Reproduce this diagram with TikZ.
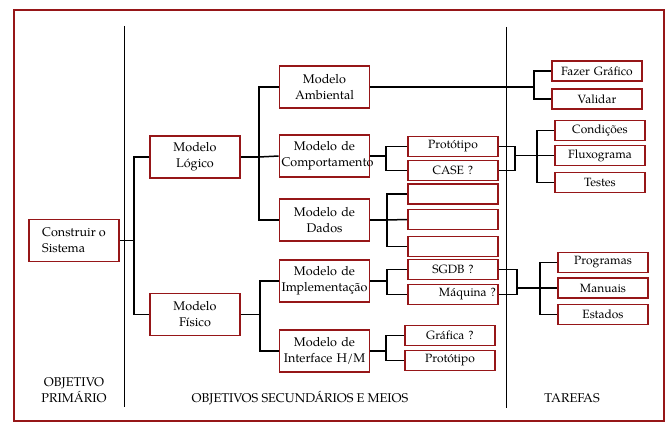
\documentclass[tikz,border=0pt]{standalone}
\usepackage{fontspec}
\setmainfont{TeX Gyre Pagella}
\definecolor{boxred}{RGB}{150,22,24}
\begin{document}
\begin{tikzpicture}[x=1pt,y=-1pt,
  boxbase/.style={draw=boxred,line width=1.6pt,inner sep=2pt,font=\fontsize{12}{15}\selectfont},
  box/.style={boxbase,minimum height=42pt,text width=86pt,align=center,font=\fontsize{12.6}{16}\selectfont},
  sbox/.style={boxbase,minimum height=20pt,text width=86pt,align=center},
  conn/.style={line width=1.5pt},
  col/.style={line width=0.9pt},
  lbl/.style={font=\fontsize{12.7}{16}\selectfont,align=center,inner sep=0pt}]
\useasboundingbox (0,0) rectangle (668,428);
\draw[draw=boxred,line width=1.4pt] (14,10) rectangle (664,421);
\draw[col] (124.5,26) -- (124.5,407);
\draw[col] (506,27) -- (506,408);

% nodes
\node[boxbase,minimum width=90pt,minimum height=42pt,align=left,font=\fontsize{12.6}{16}\selectfont] (cons) at (74,240.5) {Construir o\\Sistema};
\node[box] (log) at (195,157) {Modelo\\Lógico};
\node[box] (fis) at (195,314.5) {Modelo\\Físico};
\node[box] (amb) at (324.5,87) {Modelo\\Ambiental};
\node[box] (comp) at (324.5,156) {Modelo de\\Comportamento};
\node[box] (dad) at (324.5,220) {Modelo de\\Dados};
\node[box] (impl) at (324.5,281) {Modelo de\\Implementação};
\node[box] (intf) at (324.5,351) {Modelo de\\Interface H/M};

\node[sbox] (proto1) at (453,146.5) {Protótipo};
\node[sbox] (case) at (453,170.5) {CASE ?};
\node[sbox] (e1) at (453,194) {};
\node[sbox] (e2) at (453,219.5) {};
\node[sbox] (e3) at (453,246.5) {};
\node[sbox] (sgdb) at (453,269.5) {SGDB ?};
\node[sbox,align=right] (maq) at (453,294.5) {Máquina ?};
\node[sbox] (graf) at (450,335.5) {Gráfica ?};
\node[sbox] (proto2) at (450,360.5) {Protótipo};

\node[sbox] (faz) at (597,71) {Fazer Gráfico};
\node[sbox] (val) at (597,99) {Validar};
\node[sbox] (cond) at (600,130.5) {Condições};
\node[sbox] (flux) at (600,155.5) {Fluxograma};
\node[sbox] (test) at (600,182.5) {Testes};
\node[sbox] (prog) at (603,262.5) {Programas};
\node[sbox] (man) at (603,288) {Manuais};
\node[sbox] (est) at (603,314.5) {Estados};

% junctions
\coordinate (J0) at (134,240.5);
\coordinate (J1) at (259,157);
\coordinate (J2) at (260,314.5);
\coordinate (JA) at (534,87);
\coordinate (JC) at (386,156);
\coordinate (JD) at (387,220);
\coordinate (JI) at (387,281);
\coordinate (JF) at (386,351);
\coordinate (JP) at (515,155.5);
\coordinate (K1) at (537,155.5);
\coordinate (JM) at (517,288);
\coordinate (K2) at (540,288);

% connectors
\draw[conn] (cons.east) -- (J0);
\draw[conn] (log.west) -| (J0) |- (fis.west);
\draw[conn] (log.east) -- (J1);
\draw[conn] (amb.west) -| (J1) |- (dad.west);
\draw[conn] (J1) -- (comp.west);
\draw[conn] (fis.east) -- (J2);
\draw[conn] (impl.west) -| (J2) |- (intf.west);

\draw[conn] (amb.east) -- (JA);
\draw[conn] (faz.west) -| (JA) |- (val.west);

\draw[conn] (comp.east) -- (JC);
\draw[conn] (proto1.west) -| (JC) |- (case.west);
\draw[conn] (proto1.east) -| (JP) |- (case.east);
\draw[conn] (JP) -- (K1);
\draw[conn] (cond.west) -| (K1) |- (test.west);
\draw[conn] (K1) -- (flux.west);

\draw[conn] (dad.east) -- (JD);
\draw[conn] (e1.west) -| (JD) |- (e3.west);
\draw[conn] (JD) -- (e2.west);

\draw[conn] (impl.east) -- (JI);
\draw[conn] (sgdb.west) -| (JI) |- (maq.west);
\draw[conn] (sgdb.east) -| (JM) |- (maq.east);
\draw[conn] (JM) -- (K2);
\draw[conn] (prog.west) -| (K2) |- (est.west);
\draw[conn] (K2) -- (man.west);

\draw[conn] (intf.east) -- (JF);
\draw[conn] (graf.west) -| (JF) |- (proto2.west);

% labels
\node[lbl] (l1) at (74,390) {OBJETIVO\\PRIMÁRIO};
\node[lbl] (l2) at (300,398) {OBJETIVOS SECUNDÁRIOS E MEIOS};
\node[lbl] (l3) at (572,398) {TAREFAS};
\end{tikzpicture}
\end{document}
